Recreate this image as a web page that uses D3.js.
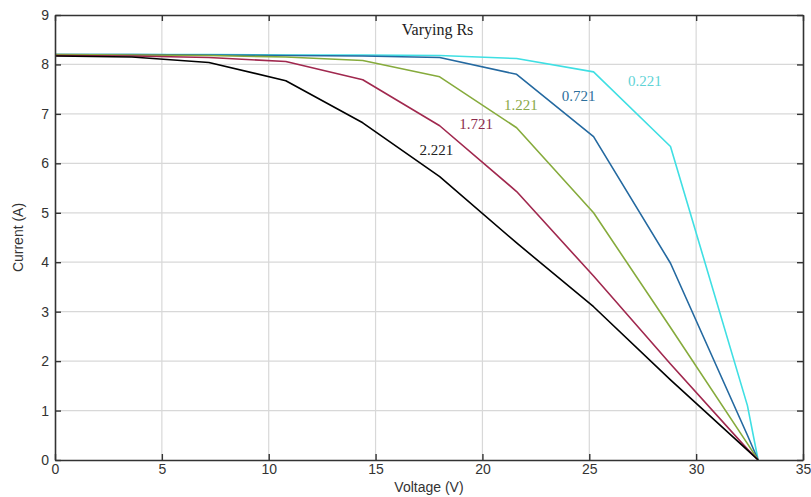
<!DOCTYPE html>
<html><head><meta charset="utf-8">
<script src="https://cdn.jsdelivr.net/npm/d3@7"></script>
<style>body{margin:0;background:#fff}svg{display:block}</style>
</head><body>
<svg id="c" width="811" height="497"></svg>
<script>
const voltage = [0, 3.6, 7.2, 10.8, 14.4, 18.0, 21.6, 25.2, 28.8, 32.4, 32.9];
const rsLabels = ["0.221", "0.721", "1.221", "1.721", "2.221"];
const current_0221 = [8.20, 8.20, 8.20, 8.19, 8.19, 8.18, 8.12, 7.85, 6.34, 1.10, 0];
const current_0721 = [8.20, 8.20, 8.19, 8.18, 8.17, 8.14, 7.80, 6.54, 3.98, 0.50, 0];
const current_1221 = [8.20, 8.19, 8.18, 8.15, 8.08, 7.75, 6.72, 5.00, 2.68, 0.33, 0];
const current_1721 = [8.18, 8.17, 8.14, 8.06, 7.69, 6.76, 5.43, 3.72, 1.94, 0.22, 0];
const current_2221 = [8.17, 8.15, 8.04, 7.67, 6.82, 5.73, 4.39, 3.10, 1.62, 0.20, 0];
const xTicks = [0, 5, 10, 15, 20, 25, 30, 35];
const yTicks = [0, 1, 2, 3, 4, 5, 6, 7, 8, 9];
const labelPos = [[27.6, 7.56], [24.5, 7.26], [21.8, 7.08], [19.7, 6.69], [17.85, 6.17]];
const title = "Varying Rs";

const series = [current_0221, current_0721, current_1221, current_1721, current_2221];
const colors = ["#3fdfe3", "#2469a0", "#86ab3c", "#a0284e", "#000000"];
const labelColors = ["#5fd3d6", "#2d6f9c", "#8aa848", "#8c2a4c", "#222222"];

const svg = d3.select("#c");
const L = 55, R = 803, T = 15, B = 460;
const x = d3.scaleLinear().domain([0, 35]).range([L, R]);
const y = d3.scaleLinear().domain([0, 9]).range([B, T]);

// grid
const g = svg.append("g");
g.selectAll(".gx").data(xTicks.slice(1, -1)).enter().append("line")
  .attr("x1", d => x(d)).attr("x2", d => x(d)).attr("y1", T).attr("y2", B)
  .attr("stroke", "#d8d8d8").attr("stroke-width", 1.2);
g.selectAll(".gy").data(yTicks.slice(1, -1)).enter().append("line")
  .attr("y1", d => y(d)).attr("y2", d => y(d)).attr("x1", L).attr("x2", R)
  .attr("stroke", "#d8d8d8").attr("stroke-width", 1.2);

// lines
const line = d3.line().x((d, i) => x(voltage[i])).y(d => y(d));
series.forEach((s, k) => {
  svg.append("path").datum(s).attr("d", line).attr("fill", "none")
    .attr("stroke", colors[k]).attr("stroke-width", 1.6).attr("stroke-linejoin", "round");
});

// axes (MATLAB style, ticks inside)
const axB = d3.axisBottom(x).tickValues(xTicks).tickSizeInner(-6).tickSizeOuter(0).tickPadding(4);
const axL = d3.axisLeft(y).tickValues(yTicks).tickSizeInner(-6).tickSizeOuter(0).tickPadding(6);
const axT = d3.axisTop(x).tickValues(xTicks).tickSizeInner(-6).tickSizeOuter(0).tickFormat("");
const axR = d3.axisRight(y).tickValues(yTicks).tickSizeInner(-6).tickSizeOuter(0).tickFormat("");
function style(sel) {
  sel.selectAll("path").attr("stroke", "#333").attr("stroke-width", 1.6);
  sel.selectAll("line").attr("stroke", "#333").attr("stroke-width", 1.4);
  sel.selectAll("text").attr("fill", "#333").attr("font-family", "Liberation Sans, Arial, sans-serif").attr("font-size", 14);
}
svg.append("g").attr("transform", `translate(0,${B})`).call(axB).call(style);
svg.append("g").attr("transform", `translate(${L},0)`).call(axL).call(style);
svg.append("g").attr("transform", `translate(0,${T})`).call(axT).call(style);
svg.append("g").attr("transform", `translate(${R},0)`).call(axR).call(style);

// axis labels
svg.append("text").attr("x", x(17.5)).attr("y", 492).attr("text-anchor", "middle")
  .attr("font-family", "Liberation Sans, Arial, sans-serif").attr("font-size", 14).attr("fill", "#333")
  .text("Voltage (V)");
svg.append("text").attr("transform", `translate(23,${y(4.5)}) rotate(-90)`).attr("text-anchor", "middle")
  .attr("font-family", "Liberation Sans, Arial, sans-serif").attr("font-size", 14).attr("fill", "#333")
  .text("Current (A)");

// title
svg.append("text").attr("x", x(17.9)).attr("y", y(8.6)).attr("text-anchor", "middle")
  .attr("font-family", "Liberation Serif, Times New Roman, serif").attr("font-size", 16).attr("fill", "#222")
  .text(title);

// curve labels
rsLabels.forEach((t, k) => {
  svg.append("text").attr("x", x(labelPos[k][0])).attr("y", y(labelPos[k][1]))
    .attr("text-anchor", "middle").attr("font-family", "Liberation Serif, Times New Roman, serif")
    .attr("font-size", 15).attr("fill", labelColors[k]).text(t);
});
</script>
</body></html>
